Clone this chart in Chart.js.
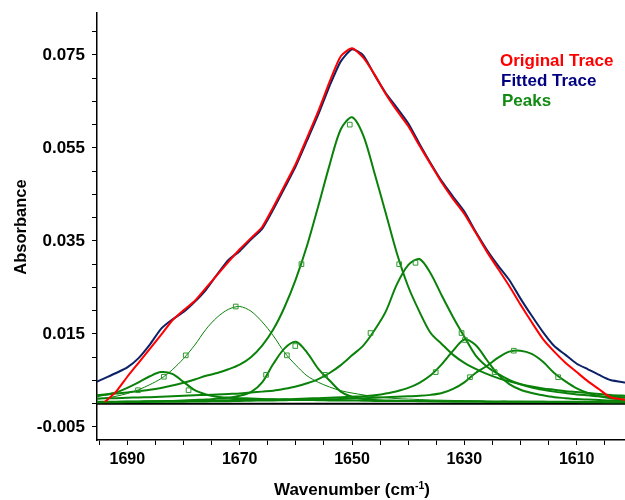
<!DOCTYPE html>
<html><head><meta charset="utf-8">
<script src="https://cdn.jsdelivr.net/npm/chart.js@4"></script>
<style>html,body{margin:0;padding:0;background:#fff}canvas{display:block}</style>
</head><body>
<canvas id="c" width="625" height="500"></canvas>
<script>
// ---- data ----
const wavenumbers = [1696,1694,1692,1690,1688,1686,1684,1682,1680,1678,1676,1674,1672,1670,1668,1666,1664,1662,1660,1658,1656,1654,1652,1650,1648,1646,1644,1642,1640,1638,1636,1634,1632,1630,1628,1626,1624,1622,1620,1618,1616,1614,1612,1610,1608,1606,1604,1601];

const originalTrace = [null,0.0004,0.0026,0.0058,0.0088,0.0118,0.0148,0.0179,0.0201,0.0221,0.0249,0.0277,0.0305,0.0332,0.0356,0.0380,0.0423,0.0469,0.0516,0.0572,0.0629,0.0692,0.0747,0.0764,0.0744,0.0708,0.0666,0.0630,0.0597,0.0555,0.0515,0.0475,0.0440,0.0408,0.0368,0.0327,0.0290,0.0253,0.0213,0.0175,0.0139,0.0112,0.0088,0.0068,0.0048,0.0031,0.0014,0.0008];

const fittedTrace = [0.0044,0.0055,0.0066,0.0078,0.0098,0.0127,0.0161,0.0181,0.0197,0.0219,0.0245,0.0278,0.0309,0.0328,0.0353,0.0376,0.0418,0.0464,0.0511,0.0566,0.0622,0.0683,0.0736,0.0762,0.0749,0.0707,0.0668,0.0636,0.0603,0.0559,0.0517,0.0478,0.0445,0.0413,0.0370,0.0331,0.0297,0.0266,0.0226,0.0189,0.0154,0.0124,0.0105,0.0086,0.0074,0.0062,0.0051,0.0045];

const peak1683 = [0.0015,0.0019,0.0024,0.0034,0.0046,0.0059,0.0068,0.0064,0.0047,0.0029,0.0020,0.0015,0.0013,0.0012,0.0011,0.0010,0.00095,0.0009,0.00085,0.0008,0.00075,0.0007,0.0007,0.0007,0.00065,0.0006,0.0006,0.0006,0.0006,0.00055,0.00055,0.0005,0.0005,0.0005,0.0005,0.00045,0.00045,0.00045,0.0004,0.0004,0.0004,0.0004,0.0004,0.0004,0.00035,0.00035,0.0003,0.0003];

const peak1671 = [0.0009,0.0012,0.0016,0.0022,0.0030,0.0041,0.0054,0.0073,0.0097,0.0126,0.0160,0.0186,0.0203,0.0209,0.0199,0.0176,0.0146,0.0110,0.0083,0.0060,0.0046,0.0036,0.0028,0.0023,0.0019,0.0015,0.0013,0.0011,0.0010,0.0009,0.0008,0.00075,0.0007,0.00065,0.0006,0.00055,0.0005,0.0005,0.0005,0.00045,0.0004,0.0004,0.0004,0.00035,0.00035,0.0003,0.0003,0.0003];

const peak1660 = [0.0003,0.00035,0.00035,0.0004,0.00045,0.0005,0.00055,0.0006,0.0007,0.0008,0.0009,0.0011,0.0013,0.0017,0.0025,0.0046,0.0086,0.0119,0.0133,0.0110,0.0075,0.0050,0.0026,0.0015,0.0010,0.0008,0.0007,0.00065,0.0006,0.0006,0.00055,0.00055,0.0005,0.0005,0.0005,0.00045,0.00045,0.0004,0.0004,0.0004,0.0004,0.00035,0.00035,0.00035,0.0003,0.0003,0.0003,0.0003];

const peak1650 = [0.0018,0.0020,0.0022,0.0024,0.0027,0.0030,0.0034,0.0039,0.0045,0.0052,0.0060,0.0066,0.0074,0.0084,0.0100,0.0125,0.0160,0.0208,0.0268,0.0340,0.0425,0.0513,0.0590,0.0616,0.0577,0.0496,0.0410,0.0323,0.0252,0.0198,0.0152,0.0128,0.0105,0.0088,0.0075,0.0064,0.0055,0.0048,0.0042,0.0037,0.0033,0.0030,0.0027,0.0025,0.0023,0.0021,0.0019,0.0017];

const peak1639 = [0.0011,0.00115,0.0012,0.0013,0.00135,0.0014,0.0015,0.0016,0.0017,0.0018,0.0019,0.0020,0.0021,0.0022,0.0024,0.0026,0.0028,0.0032,0.0037,0.0044,0.0053,0.0066,0.0083,0.0104,0.0125,0.0158,0.0198,0.0257,0.0298,0.0311,0.0280,0.0232,0.0186,0.0144,0.0104,0.0080,0.0064,0.0051,0.0042,0.0035,0.0030,0.0026,0.0023,0.0020,0.0018,0.0016,0.0015,0.0014];

const peak1630 = [0.0004,0.0004,0.00045,0.0005,0.0005,0.00055,0.00055,0.0006,0.0006,0.00065,0.0007,0.0007,0.00075,0.0008,0.00085,0.0009,0.0009,0.00095,0.0010,0.0011,0.0012,0.0013,0.0014,0.0015,0.0016,0.0018,0.0022,0.0027,0.0034,0.0045,0.0061,0.0085,0.0114,0.0138,0.0126,0.0094,0.0063,0.0042,0.0030,0.0023,0.0018,0.0014,0.0012,0.0010,0.0009,0.0008,0.0007,0.0007];

const peak1621 = [0.0003,0.0003,0.0003,0.00035,0.00035,0.0004,0.0004,0.0004,0.00045,0.0005,0.0005,0.00055,0.00055,0.0006,0.00065,0.0007,0.0007,0.00075,0.0008,0.00085,0.0009,0.00095,0.0010,0.0011,0.0012,0.0013,0.0014,0.0015,0.0016,0.0017,0.0019,0.0023,0.0032,0.0046,0.0066,0.0081,0.0099,0.0112,0.0114,0.0107,0.0090,0.0066,0.0048,0.0033,0.0023,0.0016,0.0012,0.0009];

// square markers: centre and half-height positions of each peak
const markerWavenumbers = [1688.1,1683.5,1679.1, 1679.6,1670.7,1661.6, 1665.3,1660.1,1654.8, 1659.0,1650.4,1641.6, 1646.7,1638.7,1630.5, 1635.1,1629.9,1624.6, 1629.0,1621.2,1613.3];
const markerAbsorbance = [0.0029,0.0058,0.0029, 0.0104,0.0209,0.0104, 0.0062,0.0124,0.0062, 0.0300,0.0600,0.0300, 0.0152,0.0303,0.0152, 0.0068,0.0137,0.0068, 0.0057,0.0114,0.0057];

// axes
const xRange = [1601.4, 1695.4];
const yRange = [-0.0078, 0.0840];
const xTickValues = [1695,1690,1685,1680,1675,1670,1665,1660,1655,1650,1645,1640,1635,1630,1625,1620,1615,1610,1605];
const xTickLabels = [1690,1670,1650,1630,1610];
const yTickValues = [-0.005,0,0.005,0.010,0.015,0.020,0.025,0.030,0.035,0.040,0.045,0.050,0.055,0.060,0.065,0.070,0.075,0.080];
const yTickLabels = ['-0.005','0.015','0.035','0.055','0.075'];

const legendNames = ['Original Trace','Fitted Trace','Peaks'];
const legendColors = ['#ff0000','#000080','#138a13'];

// ---- chart ----
const FONT = '"Liberation Sans", Arial, Helvetica, sans-serif';
const GREEN = '#0a820a';
const pts = arr => wavenumbers.map((w, i) => ({x: w, y: arr[i]}));

const peakSeries = [peak1683, peak1660, peak1650, peak1639, peak1630, peak1621];
const datasets = [
  {label:'Original Trace', data: pts(originalTrace), borderColor:'#ff0000', borderWidth:2, pointRadius:0, tension:0.2, order:0},
  {label:'Fitted Trace', data: pts(fittedTrace), borderColor:'#0d2266', borderWidth:2, pointRadius:0, tension:0.2, order:1},
  {label:'markers', type:'scatter', data: markerWavenumbers.map((w,i)=>({x:w, y:markerAbsorbance[i]})),
    showLine:false, pointStyle:'rect', pointRadius:3.3, borderColor:'#2f9a2f', backgroundColor:'rgba(255,255,255,0)', pointBorderWidth:1, borderWidth:1, order:2},
  {label:'Peak thin', data: pts(peak1671), borderColor:GREEN, borderWidth:1, pointRadius:0, tension:0.3, order:4},
];
peakSeries.forEach((s, i) => datasets.push({label:'Peak'+i, data: pts(s), borderColor:GREEN, borderWidth:2, pointRadius:0, tension:0.3, order:3}));
datasets.push({label:'zero', data:[{x:xRange[1], y:0},{x:xRange[0], y:0}], borderColor:'#000', borderWidth:2, pointRadius:0, order:10});

const textPlugin = {
  id: 'texts',
  afterDraw(chart) {
    const ctx = chart.ctx;
    ctx.save();
    // legend
    ctx.font = 'bold 17px ' + FONT;
    ctx.textAlign = 'left';
    ctx.textBaseline = 'middle';
    const lx = [500, 501, 502], ly = [61, 81, 101];
    legendNames.forEach((t, i) => { ctx.fillStyle = legendColors[i]; ctx.fillText(t, lx[i], ly[i]); });
    // y title
    ctx.fillStyle = '#000';
    ctx.save();
    ctx.font = 'bold 16.5px ' + FONT;
    ctx.translate(21, 227);
    ctx.rotate(-Math.PI / 2);
    ctx.textAlign = 'center';
    ctx.fillText('Absorbance', 0, 0);
    ctx.restore();
    // x title with superscript
    const main = 'Wavenumber (cm', sup = '-1', tail = ')';
    ctx.textBaseline = 'alphabetic';
    ctx.font = 'bold 17px ' + FONT;
    const wMain = ctx.measureText(main).width, wTail = ctx.measureText(tail).width;
    ctx.font = 'bold 10.5px ' + FONT;
    const wSup = ctx.measureText(sup).width;
    const total = wMain + wSup + wTail;
    let x = 352 - total / 2;
    const base = 495;
    ctx.font = 'bold 17px ' + FONT;
    ctx.fillText(main, x, base); x += wMain;
    ctx.font = 'bold 10.5px ' + FONT;
    ctx.fillText(sup, x, base - 6.5); x += wSup;
    ctx.font = 'bold 17px ' + FONT;
    ctx.fillText(tail, x, base);
    ctx.restore();
  }
};

new Chart(document.getElementById('c'), {
  type: 'line',
  data: { datasets },
  options: {
    responsive: false,
    animation: false,
    devicePixelRatio: 1,
    layout: { autoPadding: false, padding: { left: 0, right: 0, top: 13, bottom: 0 } },
    plugins: { legend: { display: false }, tooltip: { enabled: false } },
    scales: {
      x: {
        type: 'linear', reverse: true, min: xRange[0], max: xRange[1],
        afterBuildTicks: s => { s.ticks = xTickValues.map(v => ({value: v})); },
        afterFit: s => { s.height = 60; s.paddingLeft = 0; s.paddingRight = 0; },
        border: { display: true, color: '#000', width: 1.5 },
        grid: { display: true, drawOnChartArea: false, drawTicks: true, tickLength: 5, tickColor: '#000', tickWidth: 1 },
        ticks: { autoSkip: false, maxRotation: 0, color: '#000', padding: 5,
          font: { family: FONT, size: 16, weight: 'bold' },
          callback: v => xTickLabels.includes(v) ? String(v) : '' }
      },
      y: {
        type: 'linear', min: yRange[0], max: yRange[1],
        afterBuildTicks: s => { s.ticks = yTickValues.map(v => ({value: v})); },
        afterFit: s => { s.width = 97; s.paddingTop = 0; s.paddingBottom = 0; },
        border: { display: true, color: '#000', width: 1.5 },
        grid: { display: true, drawOnChartArea: false, drawTicks: true, tickLength: 5, tickColor: '#000', tickWidth: 1 },
        ticks: { autoSkip: false, color: '#000', padding: 7,
          font: { family: FONT, size: 17, weight: 'bold' },
          callback: v => { const l = yTickLabels.find(t => Math.abs(parseFloat(t) - v) < 1e-9); return l === undefined ? '' : l; } }
      }
    }
  },
  plugins: [textPlugin]
});
</script>
</body></html>
